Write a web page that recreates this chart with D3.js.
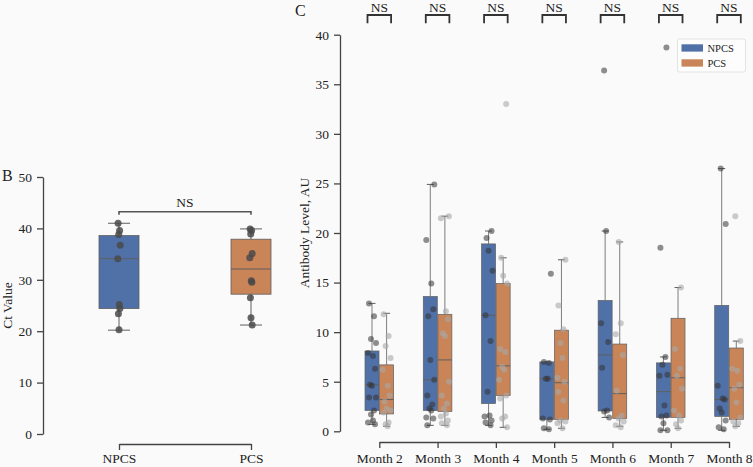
<!DOCTYPE html>
<html><head><meta charset="utf-8">
<script src="https://cdn.jsdelivr.net/npm/d3@7"></script>
<style>
html,body{margin:0;padding:0;background:#fafafa;}
svg{display:block;font-family:"Liberation Serif","DejaVu Serif",serif;}
</style></head><body>
<svg id="chart" width="753" height="467"></svg>
<script>
// ---------- Panel B data ----------
const groupsB = ["NPCS", "PCS"];
const ctNPCS = [41.0, 39.6, 38.8, 36.7, 34.1, 25.2, 24.4, 23.4, 20.3];
const ctPCS  = [39.9, 39.6, 38.9, 35.1, 34.3, 29.8, 29.5, 26.5, 22.6, 21.2];
// box stats [whiskLo, q1, median, q3, whiskHi]
const ctBoxNPCS = [20.2, 24.4, 34.1, 38.6, 41.0];
const ctBoxPCS  = [21.2, 27.2, 32.1, 37.9, 39.9];
const ticksB = [0, 10, 20, 30, 40, 50];

// ---------- Panel C data ----------
const months = ["Month 2", "Month 3", "Month 4", "Month 5", "Month 6", "Month 7", "Month 8"];
const series = ["NPCS", "PCS"];
const ticksC = [0, 5, 10, 15, 20, 25, 30, 35, 40];
const npcsPoints = [
  [12.9, 11.6, 9.3, 8.9, 7.9, 7.6, 6.3, 4.7, 4.6, 3.4, 3.4, 2.1, 1.7, 1.1, 0.9, 0.7],
  [24.9, 19.3, 14.9, 12.3, 11.6, 7.2, 5.2, 3.6, 2.7, 2.3, 2.1, 1.4, 1.3, 0.6],
  [20.2, 19.5, 18.2, 16.2, 11.7, 9.1, 4.0, 1.6, 1.5, 1.1, 0.9, 0.6],
  [15.9, 7.0, 6.9, 5.3, 5.3, 1.3, 1.2, 0.3, 0.2],
  [36.4, 20.2, 10.9, 9.0, 6.4, 2.1, 2.0, 1.4],
  [38.7, 18.5, 7.5, 6.7, 5.7, 5.6, 2.6, 1.6, 1.5, 0.8, 0.1, 0.1],
  [26.5, 20.9, 4.6, 3.3, 3.2, 2.3, 1.9, 1.1, 0.4, 0.2]
];
const pcsPoints = [
  [11.8, 9.6, 8.6, 7.4, 6.2, 4.6, 3.6, 3.0, 2.3, 2.1, 1.9, 0.9, 0.7, 0.5],
  [21.7, 21.5, 12.1, 11.3, 9.9, 9.6, 5.0, 3.6, 2.8, 2.3, 1.8, 1.5, 1.1, 0.8, 0.6],
  [33.0, 17.5, 15.7, 14.9, 8.3, 8.0, 6.5, 6.2, 5.2, 3.6, 3.3, 1.5, 1.3, 0.4],
  [17.3, 12.7, 10.3, 8.9, 7.4, 5.4, 5.0, 4.0, 3.1, 1.1, 1.0, 0.8, 0.3],
  [19.1, 10.9, 9.8, 7.7, 4.1, 1.6, 1.3, 1.0, 0.6, 0.4],
  [14.5, 8.3, 6.3, 5.6, 4.3, 2.1, 1.6, 1.1, 0.7, 0.3],
  [21.7, 9.1, 6.3, 6.1, 4.7, 4.3, 2.9, 1.4, 1.0, 0.8, 0.5]
];
// box stats per month: [whiskLo, q1, median, q3, whiskHi]
const npcsBox = [
  [0.7, 2.1, 4.7, 8.1, 12.9],
  [0.6, 2.1, 5.2, 13.6, 24.9],
  [0.6, 2.8, 11.7, 18.9, 20.2],
  [0.2, 1.2, 5.3, 7.0, 7.0],
  [1.4, 2.05, 7.7, 13.2, 20.2],
  [0.1, 1.4, 4.0, 6.9, 7.5],
  [0.1, 1.5, 3.2, 12.7, 26.5]
];
const pcsBox = [
  [0.5, 1.75, 3.2, 6.7, 11.9],
  [0.6, 2.0, 7.2, 11.8, 21.7],
  [0.4, 3.6, 6.6, 14.9, 17.5],
  [0.3, 1.2, 4.9, 10.2, 17.3],
  [0.5, 1.3, 3.8, 8.8, 19.1],
  [0.3, 1.4, 5.4, 11.4, 14.5],
  [0.5, 1.2, 4.4, 8.4, 9.1]
];
const sigLabels = ["NS", "NS", "NS", "NS", "NS", "NS", "NS"];

// ---------- styling ----------
const colors = {NPCS: "#5070a8", PCS: "#c98457"};
const lineCol = "#5f5f5f";
const spineCol = "#444";
const textCol = "#222";
const jit = [-3, 2, -1, 4, -4, 1, 3, -2, 0, 4, -3, 2, -1, 1, -4, 3];

const svg = d3.select("#chart");

// ================= Panel B =================
const xB = d3.scalePoint().domain(groupsB).range([119, 251]);
const yB = d3.scaleLinear().domain([0, 50]).range([434, 177]);
const gB = svg.append("g");

function styleAxis(g){
  g.selectAll(".domain").attr("stroke", spineCol).attr("stroke-width", 1.3);
  g.selectAll(".tick line").attr("stroke", spineCol).attr("stroke-width", 1.3);
  g.selectAll(".tick text").attr("fill", textCol).style("font-family", "Liberation Serif, serif").style("font-size", "13.5px");
}

const axLB = gB.append("g").attr("transform", "translate(43,0)")
  .call(d3.axisLeft(yB).tickValues(ticksB).tickSize(6).tickSizeOuter(0).tickPadding(5));
styleAxis(axLB);
const axBB = gB.append("g").attr("transform", "translate(0,444)")
  .call(d3.axisBottom(xB).tickSize(6).tickSizeOuter(0).tickPadding(3));
styleAxis(axBB);

gB.append("text").attr("transform", `translate(12,${(yB(0)+yB(50))/2}) rotate(-90)`)
  .attr("text-anchor", "middle").attr("font-size", 13.5).attr("fill", textCol).text("Ct Value");
gB.append("text").attr("x", 2).attr("y", 181).attr("font-size", 16).attr("fill", textCol).text("B");

const boxW_B = 40;
[[ "NPCS", ctBoxNPCS, ctNPCS], ["PCS", ctBoxPCS, ctPCS]].forEach(([g, st, pts]) => {
  const cx = xB(g);
  gB.append("line").attr("x1", cx).attr("x2", cx).attr("y1", yB(st[0])).attr("y2", yB(st[1])).attr("stroke", lineCol);
  gB.append("line").attr("x1", cx).attr("x2", cx).attr("y1", yB(st[3])).attr("y2", yB(st[4])).attr("stroke", lineCol);
  [st[0], st[4]].forEach(v => gB.append("line").attr("x1", cx - 11).attr("x2", cx + 11)
    .attr("y1", yB(v)).attr("y2", yB(v)).attr("stroke", lineCol));
  gB.append("rect").attr("x", cx - boxW_B/2).attr("width", boxW_B)
    .attr("y", yB(st[3])).attr("height", yB(st[1]) - yB(st[3]))
    .attr("fill", colors[g]).attr("stroke", lineCol).attr("stroke-width", 0.8);
  gB.append("line").attr("x1", cx - boxW_B/2).attr("x2", cx + boxW_B/2)
    .attr("y1", yB(st[2])).attr("y2", yB(st[2])).attr("stroke", lineCol);
  gB.selectAll(null).data(pts).enter().append("circle")
    .attr("cx", (d, i) => cx + jit[i % jit.length] * 0.3)
    .attr("cy", d => yB(d)).attr("r", 3.5)
    .attr("fill", "#4a4a4a").attr("fill-opacity", 0.85);
});
// significance bracket B
const brY = 211.7;
gB.append("path").attr("d", `M${xB("NPCS")},${brY+3}V${brY}H${xB("PCS")}V${brY+3}`)
  .attr("fill", "none").attr("stroke", "#555").attr("stroke-width", 1.6);
gB.append("text").attr("x", (xB("NPCS")+xB("PCS"))/2).attr("y", 207).attr("text-anchor", "middle")
  .attr("font-size", 13.5).attr("fill", textCol).text("NS");

// ================= Panel C =================
const xC = d3.scalePoint().domain(months).range([379.3, 729]);
const yC = d3.scaleLinear().domain([0, 40]).range([431.3, 34.7]);
const gC = svg.append("g");

const axLC = gC.append("g").attr("transform", "translate(340,0)")
  .call(d3.axisLeft(yC).tickValues(ticksC).tickSize(6).tickSizeOuter(0).tickPadding(5));
styleAxis(axLC);
const axBC = gC.append("g").attr("transform", "translate(0,442)")
  .call(d3.axisBottom(xC).tickSize(6).tickSizeOuter(0).tickPadding(5));
styleAxis(axBC);

gC.append("text").attr("transform", `translate(309,${(yC(0)+yC(40))/2}) rotate(-90)`)
  .attr("text-anchor", "middle").attr("font-size", 13.5).attr("fill", textCol).text("Antibody Level, AU");
gC.append("text").attr("x", 295).attr("y", 16).attr("font-size", 16).attr("fill", textCol).text("C");

const hueOff = {NPCS: -7.3, PCS: 7.3};
const boxW = 14;
const ptStyle = {NPCS: {fill: "#333", op: 0.55}, PCS: {fill: "#a8a8a8", op: 0.6}};

months.forEach((m, mi) => {
  series.forEach(s => {
    const st = s === "NPCS" ? npcsBox[mi] : pcsBox[mi];
    const pts = s === "NPCS" ? npcsPoints[mi] : pcsPoints[mi];
    const cx = xC(m) + hueOff[s];
    gC.append("line").attr("x1", cx).attr("x2", cx).attr("y1", yC(st[0])).attr("y2", yC(st[1])).attr("stroke", lineCol).attr("stroke-opacity", 0.8);
    gC.append("line").attr("x1", cx).attr("x2", cx).attr("y1", yC(st[3])).attr("y2", yC(st[4])).attr("stroke", lineCol).attr("stroke-opacity", 0.8);
    [st[0], st[4]].forEach(v => gC.append("line").attr("x1", cx - 3.5).attr("x2", cx + 3.5)
      .attr("y1", yC(v)).attr("y2", yC(v)).attr("stroke", lineCol));
    gC.append("rect").attr("x", cx - boxW/2).attr("width", boxW)
      .attr("y", yC(st[3])).attr("height", yC(st[1]) - yC(st[3]))
      .attr("fill", colors[s]).attr("stroke", lineCol).attr("stroke-width", 0.7);
    gC.append("line").attr("x1", cx - boxW/2).attr("x2", cx + boxW/2)
      .attr("y1", yC(st[2])).attr("y2", yC(st[2])).attr("stroke", lineCol);
    gC.selectAll(null).data(pts).enter().append("circle")
      .attr("cx", (d, i) => cx + jit[(i + mi * 3) % jit.length])
      .attr("cy", d => yC(d)).attr("r", 3)
      .attr("fill", ptStyle[s].fill).attr("fill-opacity", ptStyle[s].op);
  });
  // bracket
  const cx = xC(m);
  gC.append("path").attr("d", `M${cx-11.8},23.3V15H${cx+11.8}V23.3`)
    .attr("fill", "none").attr("stroke", "#333").attr("stroke-width", 1.8);
  gC.append("text").attr("x", cx).attr("y", 11.5).attr("text-anchor", "middle")
    .attr("font-size", 13.5).attr("fill", textCol).text(sigLabels[mi]);
});

// legend
const lg = gC.append("g").attr("transform", "translate(677.5,39)");
lg.append("rect").attr("width", 68).attr("height", 33).attr("rx", 2)
  .attr("fill", "#fdfdfd").attr("stroke", "#dcdcdc").attr("stroke-width", 0.8);
series.forEach((s, i) => {
  lg.append("rect").attr("x", 4).attr("y", 5.3 + i * 15).attr("width", 21.5).attr("height", 7.3).attr("fill", colors[s]);
  lg.append("text").attr("x", 30).attr("y", 13 + i * 15).attr("font-size", 10.5).attr("fill", textCol).text(s);
});
</script>
</body></html>
